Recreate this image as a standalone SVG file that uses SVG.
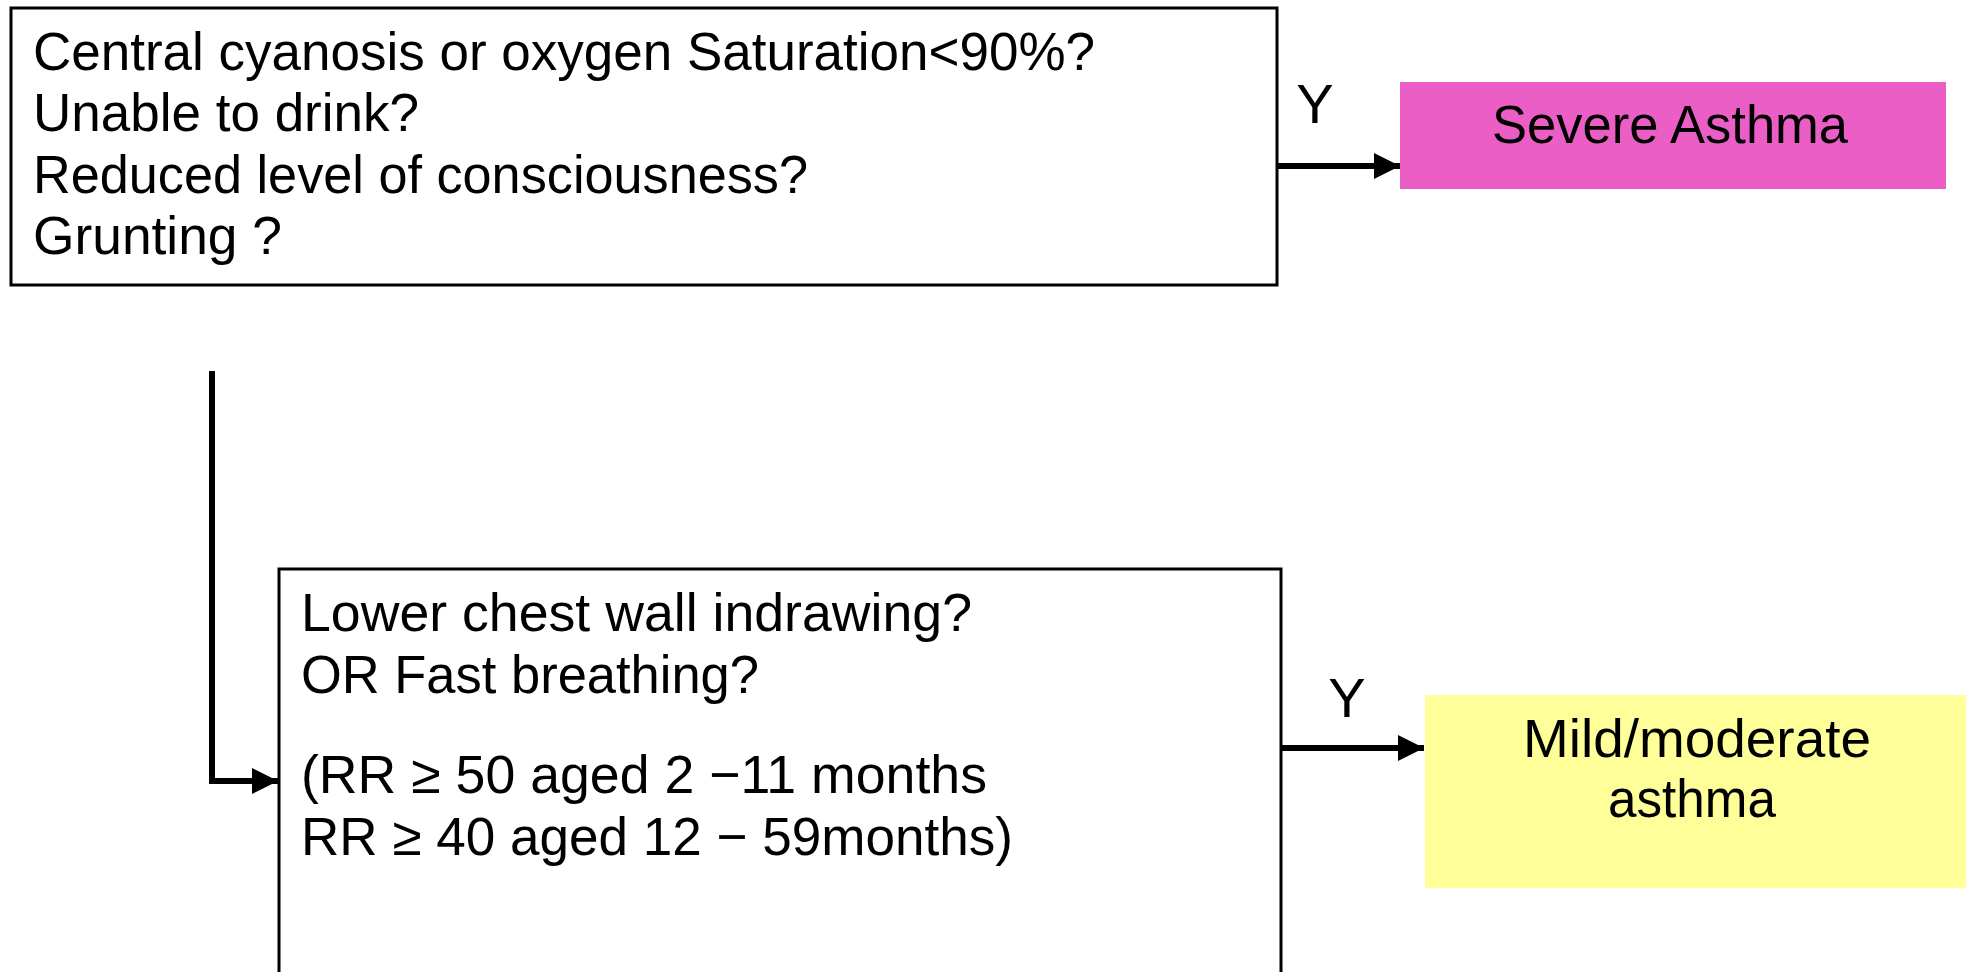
<svg xmlns="http://www.w3.org/2000/svg" width="1967" height="972" viewBox="0 0 1967 972">
  <style>
    .box { fill: #ffffff; stroke: #000000; stroke-width: 3; }
    .txt { font-family: "Liberation Sans", Arial, sans-serif; font-size: 54px; fill: #000000; }
    .lbl { font-family: "Liberation Sans", Arial, sans-serif; font-size: 56px; fill: #000000; text-anchor: middle; }
    .ctr { text-anchor: middle; }
    .conn { fill: none; stroke: #000000; stroke-width: 6; }
  </style>
  <defs>
    <marker id="arrow" markerUnits="userSpaceOnUse" markerWidth="26" markerHeight="26" refX="26" refY="13" orient="auto">
      <path d="M0,0 L26,13 L0,26 z" fill="#000000"/>
    </marker>
  </defs>

  <rect width="1967" height="972" fill="#ffffff"/>

  <!-- danger-sign questions -->
  <g id="node-danger-signs">
    <rect class="box" x="11" y="8" width="1266" height="277"/>
    <text class="txt" x="33" y="70" textLength="1062" lengthAdjust="spacingAndGlyphs">Central cyanosis or oxygen Saturation&lt;90%?</text>
    <text class="txt" x="33" y="131" textLength="386" lengthAdjust="spacingAndGlyphs">Unable to drink?</text>
    <text class="txt" x="33" y="193" textLength="775" lengthAdjust="spacingAndGlyphs">Reduced level of consciousness?</text>
    <text class="txt" x="33" y="254" textLength="249" lengthAdjust="spacingAndGlyphs">Grunting ?</text>
  </g>

  <!-- severe outcome -->
  <g id="node-severe">
    <rect x="1400" y="82" width="546" height="107" fill="#EB5EC6"/>
    <text class="txt" x="1492" y="143" textLength="356" lengthAdjust="spacingAndGlyphs">Severe Asthma</text>
  </g>

  <!-- breathing questions -->
  <g id="node-breathing">
    <rect class="box" x="279" y="569" width="1002" height="420"/>
    <text class="txt" x="301" y="631" textLength="671" lengthAdjust="spacingAndGlyphs">Lower chest wall indrawing?</text>
    <text class="txt" x="301" y="693" textLength="458" lengthAdjust="spacingAndGlyphs">OR Fast breathing?</text>
    <text class="txt" x="301" y="793" textLength="686" lengthAdjust="spacingAndGlyphs">(RR ≥ 50 aged 2 −11 months</text>
    <text class="txt" x="301" y="855" textLength="712" lengthAdjust="spacingAndGlyphs">RR ≥ 40 aged 12 − 59months)</text>
  </g>

  <!-- mild/moderate outcome -->
  <g id="node-mild">
    <rect x="1425" y="695" width="541" height="193" fill="#FFFF99"/>
    <text class="txt ctr" x="1697" y="757" textLength="348" lengthAdjust="spacingAndGlyphs">Mild/moderate</text>
    <text class="txt ctr" x="1692" y="817" textLength="168" lengthAdjust="spacingAndGlyphs">asthma</text>
  </g>

  <!-- connectors -->
  <g id="connectors">
    <line class="conn" x1="1278" y1="166" x2="1400" y2="166" marker-end="url(#arrow)"/>
    <text class="lbl" x="1315" y="123">Y</text>
    <polyline class="conn" points="212,371 212,781 278,781" marker-end="url(#arrow)"/>
    <line class="conn" x1="1282" y1="748" x2="1424" y2="748" marker-end="url(#arrow)"/>
    <text class="lbl" x="1347" y="717">Y</text>
  </g>
</svg>
